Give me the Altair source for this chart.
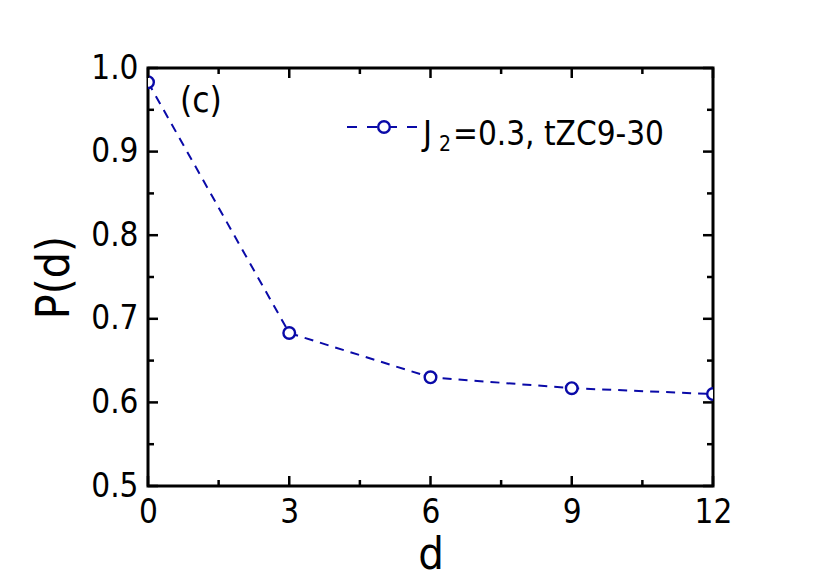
import altair as alt
import pandas as pd

# ---- data ----
d_vals = [0, 3, 6, 9, 12]
p_vals = [0.983, 0.683, 0.630, 0.617, 0.610]
x_major = [0, 3, 6, 9, 12]
x_minor = [1.5, 4.5, 7.5, 10.5]
y_major = [0.5, 0.6, 0.7, 0.8, 0.9, 1.0]
y_minor = [0.55, 0.65, 0.75, 0.85, 0.95]
legend_sym = "J"
legend_sub = "2"
legend_rest = "=0.3, tZC9-30"
panel_label = "(c)"

W, H = 565, 418
BLUE = "#0a0aa8"
FONT = "DejaVu Sans Condensed"

xs = alt.Scale(domain=[0, 12], nice=False, zero=False)
ys = alt.Scale(domain=[0.5, 1.0], nice=False, zero=False)

x_axis = alt.Axis(values=x_major, title="d", ticks=False, domain=False, grid=False,
                  labelFontSize=33, titleFontSize=45, labelPadding=10, titlePadding=3,
                  labelFont=FONT, titleFont=FONT, labelColor="black", titleColor="black",
                  titleFontWeight="normal", labelFlush=False, labelOverlap=False)
y_axis = alt.Axis(values=y_major, title="P(d)", ticks=False, domain=False, grid=False,
                  format=".1f", labelFontSize=33, titleFontSize=46, labelPadding=10,
                  titlePadding=12, labelFont=FONT, titleFont=FONT, labelColor="black",
                  titleColor="black", titleFontWeight="normal", labelFlush=False,
                  labelOverlap=False)

df = pd.DataFrame({"d": d_vals, "P": p_vals})
base = alt.Chart(df).encode(
    x=alt.X("d:Q", scale=xs, axis=x_axis),
    y=alt.Y("P:Q", scale=ys, axis=y_axis),
)
line = base.mark_line(color=BLUE, strokeDash=[9, 7], strokeWidth=2, clip=True)
pts = base.mark_point(shape="circle", fill="white", fillOpacity=1, opacity=1,
                      stroke=BLUE, strokeWidth=2.4, size=135, clip=True)


def tick_layer(xv, yv, orient, size, off):
    t = pd.DataFrame({"d": xv, "P": yv})
    kw = {"yOffset": off} if orient == "vertical" else {"xOffset": off}
    return alt.Chart(t).mark_tick(orient=orient, size=size, thickness=2.5,
                                  color="black", opacity=1, **kw).encode(
        x=alt.X("d:Q", scale=xs), y=alt.Y("P:Q", scale=ys))


ticks = []
for vals, L in ((x_major, 10), (x_minor, 6)):
    ticks.append(tick_layer(vals, [0.5] * len(vals), "vertical", L, -L / 2))
    ticks.append(tick_layer(vals, [1.0] * len(vals), "vertical", L, L / 2))
for vals, L in ((y_major, 10), (y_minor, 6)):
    ticks.append(tick_layer([0] * len(vals), vals, "horizontal", L, L / 2))
    ticks.append(tick_layer([12] * len(vals), vals, "horizontal", L, -L / 2))

lab = pd.DataFrame({"t": [panel_label]})
panel = alt.Chart(lab).mark_text(align="left", baseline="middle", fontSize=35,
                                 font=FONT, color="black").encode(
    text="t:N", x=alt.value(32), y=alt.value(33))

leg_df = pd.DataFrame({"a": [legend_sym], "b": [legend_sub], "c": [legend_rest]})
leg_line = alt.Chart(leg_df).mark_rule(color=BLUE, strokeDash=[10, 10], strokeWidth=2).encode(
    x=alt.value(199), x2=alt.value(272), y=alt.value(59))
leg_pt = alt.Chart(leg_df).mark_point(shape="circle", fill="white", fillOpacity=1, opacity=1,
                                      stroke=BLUE, strokeWidth=2.4, size=135).encode(
    x=alt.value(236), y=alt.value(59))
leg_j = alt.Chart(leg_df).mark_text(align="left", baseline="alphabetic", fontSize=34,
                                    font=FONT, color="black").encode(
    text="a:N", x=alt.value(275), y=alt.value(77))
leg_2 = alt.Chart(leg_df).mark_text(align="left", baseline="alphabetic", fontSize=21,
                                    font=FONT, color="black").encode(
    text="b:N", x=alt.value(291), y=alt.value(83))
leg_c = alt.Chart(leg_df).mark_text(align="left", baseline="alphabetic", fontSize=33,
                                    font=FONT, color="black").encode(
    text="c:N", x=alt.value(305), y=alt.value(77))

chart = alt.layer(line, pts, *ticks, panel, leg_line, leg_pt, leg_j, leg_2, leg_c).properties(
    width=W, height=H,
    padding={"left": 140, "top": 60, "right": 100, "bottom": 90},
    autosize=alt.AutoSizeParams(type="none"),
    background="white",
).configure_view(stroke="black", strokeWidth=3)

chart.save("out.html", embed_options={"renderer": "svg", "actions": False})
